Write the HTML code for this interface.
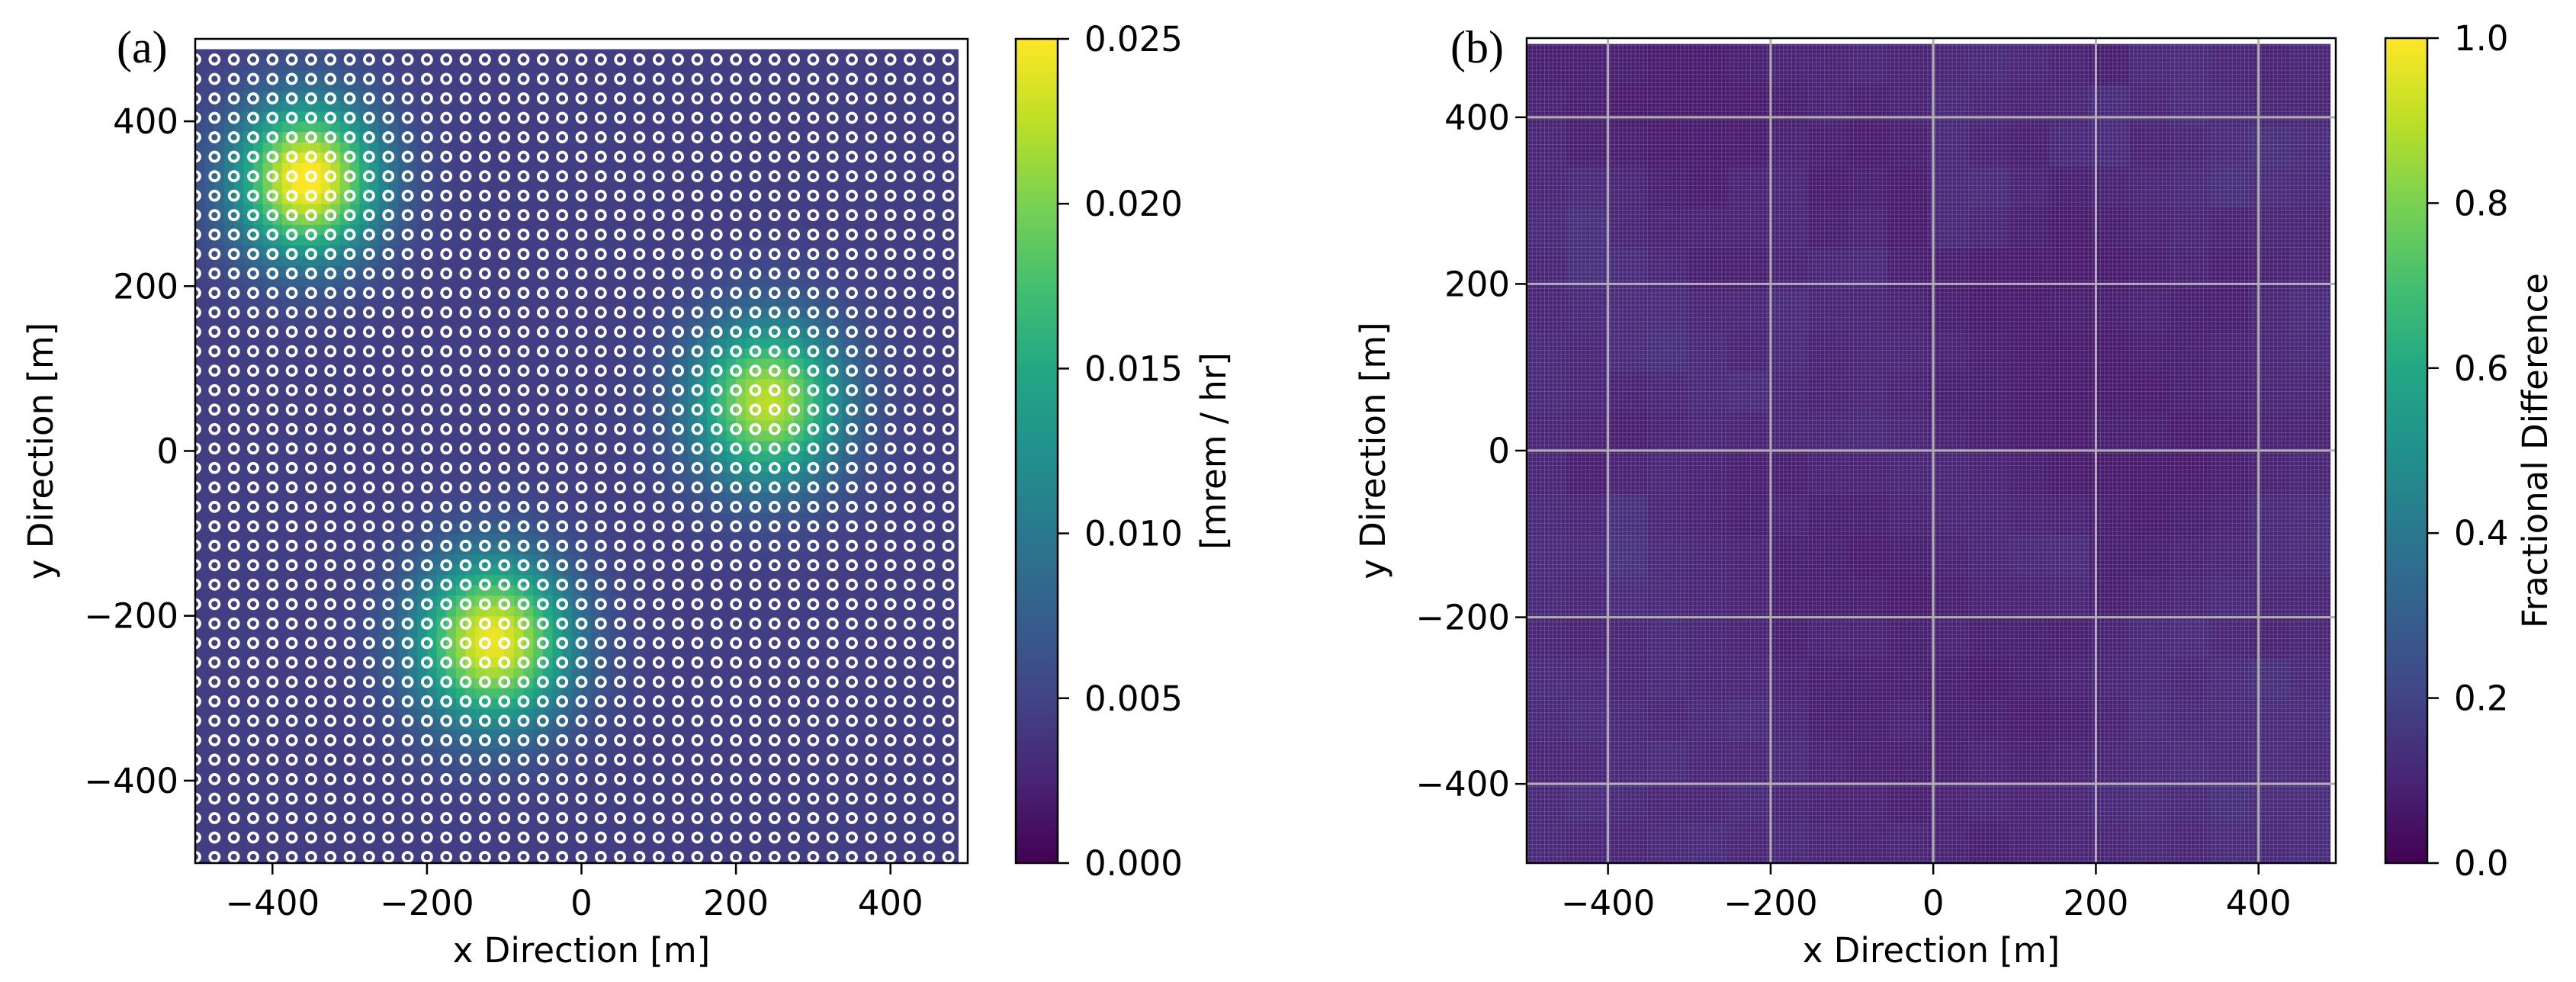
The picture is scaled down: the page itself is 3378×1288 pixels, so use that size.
<!DOCTYPE html>
<html><head><meta charset="utf-8"><style>
html,body{margin:0;padding:0;background:#fff;}
svg{display:block;}
text{font-family:"DejaVu Sans","Liberation Sans",sans-serif;fill:#000;}
</style></head><body>
<svg id="fig" width="3378" height="1288" viewBox="0 0 3378 1288" xmlns="http://www.w3.org/2000/svg">
<defs>
<linearGradient id="viridis" x1="0" y1="1" x2="0" y2="0">
<stop offset="0" stop-color="#440154"/><stop offset="0.1" stop-color="#482475"/><stop offset="0.2" stop-color="#414487"/><stop offset="0.3" stop-color="#355f8d"/><stop offset="0.4" stop-color="#2a788e"/><stop offset="0.5" stop-color="#21918c"/><stop offset="0.6" stop-color="#22a884"/><stop offset="0.7" stop-color="#44bf70"/><stop offset="0.8" stop-color="#7ad151"/><stop offset="0.9" stop-color="#bddf26"/><stop offset="1" stop-color="#fde725"/>
</linearGradient>
<pattern id="fine" width="5.4" height="5.4" patternUnits="userSpaceOnUse"><path d="M0 0.5H5.4M0.5 0V5.4" stroke="#fff" stroke-opacity="0.18" stroke-width="1"/></pattern>
</defs>
<g id="panelA"></g>
<g id="panelB"></g>
<text x="153" y="82" style="font-family:'Liberation Serif',serif;font-size:60px">(a)</text>
<text x="1902" y="82" style="font-family:'Liberation Serif',serif;font-size:60px">(b)</text>
</svg>
<script>
// ---- Panel (a) data ----
const srcX = [-355, 240, -115];
const srcY = [330, 60, -230];
const srcAmp = [0.021, 0.018, 0.020];
const srcSigma = [65, 68, 70];
const baseDose = 0.0045;
const detX = Array.from({length:40}, (_, i) => -500 + 25*i);
const detY = Array.from({length:42}, (_, j) => 475 - 23.6*j);
const ticksA = [-400, -200, 0, 200, 400];
const tickLabelsA = ["\u2212400", "\u2212200", "0", "200", "400"];
const cbTicksA = [0, 0.005, 0.010, 0.015, 0.020, 0.025];
const cbLabelsA = ["0.000", "0.005", "0.010", "0.015", "0.020", "0.025"];
// ---- Panel (b) data: 20x20 block means (rows top->bottom, cols left->right) ----
const fracDiff = [
[.08,.08,.08,.07,.07,.08,.09,.09,.10,.09,.10,.11,.10,.09,.08,.11,.12,.10,.09,.10],
[.09,.08,.07,.07,.07,.07,.08,.09,.08,.09,.11,.10,.09,.10,.12,.10,.12,.11,.10,.10],
[.10,.08,.08,.07,.07,.07,.09,.08,.07,.08,.11,.09,.08,.11,.12,.09,.10,.12,.13,.12],
[.10,.11,.10,.08,.07,.09,.10,.07,.08,.07,.11,.12,.09,.08,.09,.10,.11,.13,.12,.11],
[.11,.13,.10,.09,.09,.09,.10,.08,.09,.07,.11,.10,.08,.07,.08,.09,.10,.09,.10,.10],
[.10,.13,.12,.10,.08,.08,.09,.10,.11,.08,.08,.07,.07,.07,.07,.08,.09,.08,.09,.10],
[.10,.11,.12,.12,.10,.10,.12,.10,.10,.09,.08,.07,.07,.08,.08,.09,.08,.08,.10,.12],
[.11,.10,.12,.13,.11,.09,.11,.09,.10,.10,.09,.08,.07,.07,.07,.08,.08,.09,.10,.11],
[.11,.10,.09,.10,.11,.12,.10,.09,.10,.09,.08,.08,.07,.07,.07,.07,.08,.09,.10,.10],
[.10,.09,.08,.09,.10,.09,.10,.10,.11,.10,.09,.08,.07,.07,.08,.08,.07,.08,.09,.09],
[.10,.08,.09,.10,.09,.08,.08,.09,.09,.10,.10,.09,.08,.07,.07,.07,.07,.08,.09,.10],
[.11,.10,.13,.10,.09,.08,.09,.08,.08,.09,.10,.10,.09,.09,.08,.07,.08,.09,.11,.12],
[.12,.11,.14,.11,.10,.09,.08,.08,.07,.08,.09,.10,.11,.12,.08,.08,.09,.10,.11,.12],
[.11,.10,.12,.11,.10,.09,.08,.08,.08,.07,.08,.09,.09,.10,.08,.09,.10,.11,.10,.10],
[.10,.09,.10,.11,.10,.09,.08,.09,.09,.08,.09,.08,.08,.08,.09,.11,.12,.10,.09,.10],
[.12,.11,.10,.11,.10,.10,.09,.08,.08,.08,.08,.07,.08,.09,.10,.11,.10,.12,.13,.11],
[.11,.12,.11,.10,.11,.12,.10,.08,.08,.09,.08,.08,.07,.08,.09,.12,.11,.12,.12,.12],
[.10,.10,.11,.12,.10,.10,.11,.09,.08,.08,.08,.09,.08,.09,.10,.11,.12,.11,.12,.11],
[.11,.12,.11,.10,.10,.11,.10,.09,.09,.08,.09,.10,.09,.10,.11,.12,.11,.13,.12,.12],
[.11,.10,.10,.11,.12,.10,.11,.10,.09,.10,.09,.08,.09,.10,.10,.11,.10,.12,.11,.12]];
const ticksB = [-400, -200, 0, 200, 400];
const tickLabelsB = ["\u2212400", "\u2212200", "0", "200", "400"];
const cbTicksB = [0, 0.2, 0.4, 0.6, 0.8, 1.0];
const cbLabelsB = ["0.0", "0.2", "0.4", "0.6", "0.8", "1.0"];

const NS = "http://www.w3.org/2000/svg";
const VIR = ["#440154","#482475","#414487","#355f8d","#2a788e","#21918c","#22a884","#44bf70","#7ad151","#bddf26","#fde725"];
function hex(c){return [parseInt(c.substr(1,2),16),parseInt(c.substr(3,2),16),parseInt(c.substr(5,2),16)];}
function viridis(t){t=Math.max(0,Math.min(1,t));const f=t*10,i=Math.min(9,Math.floor(f)),r=f-i;const a=hex(VIR[i]),b=hex(VIR[i+1]);return "rgb("+a.map((v,k)=>Math.round(v+(b[k]-v)*r)).join(",")+")";}
function mk(tag, attrs, parent){const e=document.createElementNS(NS,tag);for(const k in attrs)e.setAttribute(k,attrs[k]);parent.appendChild(e);return e;}
function txt(parent, x, y, s, anchor, extra){const t=mk("text",Object.assign({x:x,y:y,"font-size":45,"text-anchor":anchor},extra||{}),parent);t.textContent=s;return t;}

// ---------- Panel A ----------
const gA = document.getElementById("panelA");
const AL=256, AR=1269, AT=51, AB=1132;
const xA = v => AL + (v + 500) / 1000 * (AR - AL);
const yA = v => AB - (v + 500) / 1000 * (AB - AT);
function dose(x,y){let d=baseDose;for(let k=0;k<srcX.length;k++){const dx=x-srcX[k],dy=y-srcY[k];d+=srcAmp[k]*Math.exp(-(dx*dx+dy*dy)/(2*srcSigma[k]*srcSigma[k]));}return d;}
const field = mk("g", {}, gA);


const step = 12.5;
for (let x = -500; x < 487.5; x += step) {
  for (let y = -500; y < 487.5; y += step) {
    const v = dose(x + step/2, y + step/2);
    const r = mk("rect", {x: xA(x), y: yA(y + step), width: xA(x+step)-xA(x)+0.6, height: yA(y)-yA(y+step)+0.6, fill: viridis(v/0.025)}, field);
    
    
  }
}
const dets = mk("g", {}, gA);


for (const dx of detX) for (const dy of detY) {
  const c = mk("circle", {cx: xA(dx), cy: yA(dy), r: 6, fill: "none", stroke: "#fff", "stroke-width": 3.8}, dets);
  
  
}
mk("rect",{x:0,y:0,width:AL-1,height:1288,fill:"#fff"},gA);
mk("rect",{x:AL,y:AB+1,width:AR-AL,height:20,fill:"#fff"},gA);
const frameA = mk("rect", {x: AL, y: AT, width: AR-AL, height: AB-AT, fill: "none", stroke: "#000", "stroke-width": 2.5}, gA);


ticksA.forEach((t,i)=>{
  mk("line",{x1:xA(t),x2:xA(t),y1:AB,y2:AB+15,stroke:"#000","stroke-width":2.5},gA);
  const l=txt(gA,xA(t),1200,tickLabelsA[i],"middle");
  
  
  mk("line",{x1:AL-15,x2:AL,y1:yA(t),y2:yA(t),stroke:"#000","stroke-width":2.5},gA);
  const m=txt(gA,AL-22,yA(t)+16,tickLabelsA[i],"end");
  
  
});
const xlA = txt(gA, (AL+AR)/2, 1262, "x Direction [m]", "middle");


const ylA = txt(gA, 69, (AT+AB)/2, "y Direction [m]", "middle", {transform:"rotate(-90 69 "+((AT+AB)/2)+")"});


const CAL=1332, CAR=1387;
const cbA = mk("rect",{x:CAL,y:AT,width:CAR-CAL,height:AB-AT,fill:"url(#viridis)",stroke:"#000","stroke-width":2.5},gA);


cbTicksA.forEach((t,i)=>{
  const y = AB - t/0.025*(AB-AT);
  mk("line",{x1:CAR,x2:CAR+15,y1:y,y2:y,stroke:"#000","stroke-width":2.5},gA);
  const l=txt(gA,1422,y+16,cbLabelsA[i],"start");
  
  
});
const cblA = txt(gA, 1607, (AT+AB)/2, "[mrem / hr]", "middle", {transform:"rotate(-90 1607 "+((AT+AB)/2)+")"});



// ---------- Panel B ----------
const gB = document.getElementById("panelB");
const BL=2002, BR=3063, BT=50, BB=1132;
const xB = v => BL + (v + 500) / 995 * (BR - BL);
const yB = v => BB - (v + 495) / 990 * (BB - BT);
const heat = mk("g", {}, gB);


const nR = fracDiff.length, nC = fracDiff[0].length;
const cw = 988 / nC, ch = 983 / nR;
fracDiff.forEach((row, r) => row.forEach((v, c) => {
  const x0 = -500 + c*cw, y1 = 488 - r*ch;
  const cell = mk("rect",{x:xB(x0),y:yB(y1),width:xB(x0+cw)-xB(x0)+0.6,height:yB(y1-ch)-yB(y1)+0.6,fill:viridis(v)},heat);
  
  
}));
mk("rect",{x:xB(-500),y:yB(488),width:xB(488)-xB(-500),height:yB(-495)-yB(488),fill:"url(#fine)"},gB);
ticksB.forEach(t=>{
  const gv=mk("line",{x1:xB(t),x2:xB(t),y1:BT,y2:BB,stroke:"#b0b0b0","stroke-width":3},gB);
  
  
  const gh=mk("line",{x1:BL,x2:BR,y1:yB(t),y2:yB(t),stroke:"#b0b0b0","stroke-width":3},gB);
  
  
});
const frameB = mk("rect",{x:BL,y:BT,width:BR-BL,height:BB-BT,fill:"none",stroke:"#000","stroke-width":2.5},gB);


ticksB.forEach((t,i)=>{
  mk("line",{x1:xB(t),x2:xB(t),y1:BB,y2:BB+15,stroke:"#000","stroke-width":2.5},gB);
  const l=txt(gB,xB(t),1200,tickLabelsB[i],"middle");
  
  
  mk("line",{x1:BL-15,x2:BL,y1:yB(t),y2:yB(t),stroke:"#000","stroke-width":2.5},gB);
  const m=txt(gB,BL-22,yB(t)+16,tickLabelsB[i],"end");
  
  
});
const xlB = txt(gB, (BL+BR)/2, 1262, "x Direction [m]", "middle");


const ylB = txt(gB, 1816, (BT+BB)/2, "y Direction [m]", "middle", {transform:"rotate(-90 1816 "+((BT+BB)/2)+")"});


const CBL=3128, CBR=3183;
const cbB = mk("rect",{x:CBL,y:BT,width:CBR-CBL,height:BB-BT,fill:"url(#viridis)",stroke:"#000","stroke-width":2.5},gB);


cbTicksB.forEach((t,i)=>{
  const y = BB - t*(BB-BT);
  mk("line",{x1:CBR,x2:CBR+15,y1:y,y2:y,stroke:"#000","stroke-width":2.5},gB);
  const l=txt(gB,3218,y+16,cbLabelsB[i],"start");
  
  
});
const cblB = txt(gB, 3340, (BT+BB)/2, "Fractional Difference", "middle", {transform:"rotate(-90 3340 "+((BT+BB)/2)+")"});


</script>
</body></html>
